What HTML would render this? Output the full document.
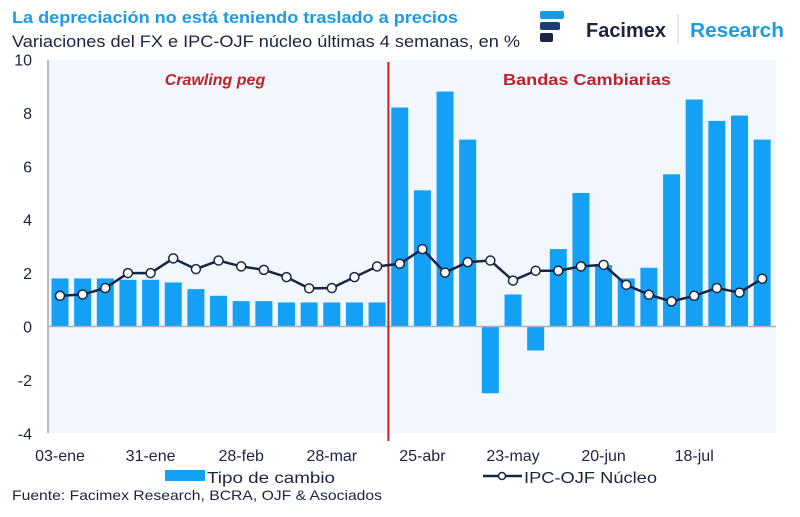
<!DOCTYPE html>
<html><head><meta charset="utf-8">
<style>
body{margin:0;width:800px;height:512px;background:#fff;overflow:hidden;font-family:"Liberation Sans",sans-serif}
svg text{font-family:"Liberation Sans",sans-serif}
</style></head>
<body>
<svg id="c" width="800" height="512">
<text x="12" y="23" font-size="17" font-weight="bold" fill="#1a9be6" textLength="446" lengthAdjust="spacingAndGlyphs">La depreciación no está teniendo traslado a precios</text>
<text x="12" y="47" font-size="17" fill="#1b2440" textLength="508" lengthAdjust="spacingAndGlyphs">Variaciones del FX e IPC-OJF núcleo últimas 4 semanas, en %</text>
<g>
<rect x="540" y="11" width="24" height="8" rx="2" fill="#1a9be6"/>
<rect x="540" y="22" width="20" height="8" rx="2" fill="#1f3b78"/>
<rect x="540" y="33" width="13" height="9" rx="2" fill="#1b2440"/>
<text x="586" y="37" font-size="20" font-weight="bold" fill="#1b2440" textLength="80" lengthAdjust="spacingAndGlyphs">Facimex</text>
<line x1="678" y1="14" x2="678" y2="44" stroke="#ccc" stroke-width="1"/>
<text x="690" y="37" font-size="20" font-weight="bold" fill="#1a9be6" textLength="94" lengthAdjust="spacingAndGlyphs">Research</text>
</g>
<rect x="48" y="60" width="728" height="373" fill="#f1f7fc"/>
<g id="yaxis"></g>
<g id="bars"></g>
<g id="line"></g>
<g id="xaxis"></g>
<text x="215" y="85" font-size="16" font-weight="bold" font-style="italic" fill="#c0202a" text-anchor="middle">Crawling peg</text>
<text x="587" y="85" font-size="16" font-weight="bold" fill="#c0202a" text-anchor="middle" textLength="168" lengthAdjust="spacingAndGlyphs">Bandas Cambiarias</text>
<g>
<rect x="165" y="470" width="40" height="11" fill="#14a0f5"/>
<text x="207" y="483" font-size="16" fill="#1b2440" textLength="128" lengthAdjust="spacingAndGlyphs">Tipo de cambio</text>
<line x1="483" y1="476" x2="522" y2="476" stroke="#1b2440" stroke-width="2.5"/>
<circle cx="502" cy="476" r="3.5" fill="#fff" stroke="#1b2440" stroke-width="1.5"/>
<text x="524" y="483" font-size="16" fill="#1b2440" textLength="133" lengthAdjust="spacingAndGlyphs">IPC-OJF Núcleo</text>
</g>
<text x="12" y="500" font-size="14" fill="#1b2440" textLength="370" lengthAdjust="spacingAndGlyphs">Fuente: Facimex Research, BCRA, OJF &amp; Asociados</text>
</svg>
<script>
const fx=[1.8,1.8,1.8,1.75,1.75,1.65,1.4,1.15,0.95,0.95,0.9,0.9,0.9,0.9,0.9,8.2,5.1,8.8,7.0,-2.5,1.2,-0.9,2.9,5.0,2.3,1.8,2.2,5.7,8.5,7.7,7.9,7.0];
const ipc=[1.15,1.2,1.44,2.0,2.0,2.55,2.15,2.47,2.25,2.12,1.85,1.43,1.44,1.85,2.25,2.35,2.9,2.02,2.41,2.47,1.72,2.09,2.09,2.25,2.31,1.56,1.19,0.94,1.15,1.44,1.27,1.79];
const yTicks=[10,8,6,4,2,0,-2,-4];
const xLabels=["03-ene","31-ene","28-feb","28-mar","25-abr","23-may","20-jun","18-jul"];
const xLabelIdx=[0,4,8,12,16,20,24,28];
const breakIdx=14.5;
const NS="http://www.w3.org/2000/svg";
const y=v=>326.5-(v*26.7);
const x=i=>60+i*22.65;
function mk(t,a,p){const e=document.createElementNS(NS,t);for(const k in a)e.setAttribute(k,a[k]);p.appendChild(e);return e;}
const ya=document.getElementById('yaxis');
yTicks.forEach(t=>{const e=mk('text',{x:32,y:y(t)+6,'font-size':16,fill:'#1b2440','text-anchor':'end'},ya);e.textContent=t;

});
mk('line',{x1:48,y1:60,x2:48,y2:433,stroke:'#9aa5b5','stroke-width':1.5},ya);
const bg=document.getElementById('bars');
fx.forEach((v,i)=>{const r=mk('rect',{x:x(i)-8.5,y:Math.min(y(v),y(0)),width:17,height:Math.abs(y(v)-y(0)),fill:'#14a0f5'},bg);

});
mk('line',{x1:48,y1:y(0),x2:776,y2:y(0),stroke:'#a9b0bb','stroke-width':1.5},bg);
const vl=mk('line',{x1:x(breakIdx),y1:62,x2:x(breakIdx),y2:441,stroke:'#c0202a','stroke-width':2},bg);


const lg=document.getElementById('line');
mk('polyline',{points:ipc.map((v,i)=>x(i)+','+y(v)).join(' '),fill:'none',stroke:'#1b2440','stroke-width':2.5},lg);
ipc.forEach((v,i)=>{const c=mk('circle',{cx:x(i),cy:y(v),r:4.5,fill:'#fff',stroke:'#1b2440','stroke-width':1.5},lg);

});
const xa=document.getElementById('xaxis');
xLabels.forEach((l,k)=>{const e=mk('text',{x:x(xLabelIdx[k]),y:461,'font-size':16,fill:'#1b2440','text-anchor':'middle'},xa);e.textContent=l;

});
</script>
</body></html>
